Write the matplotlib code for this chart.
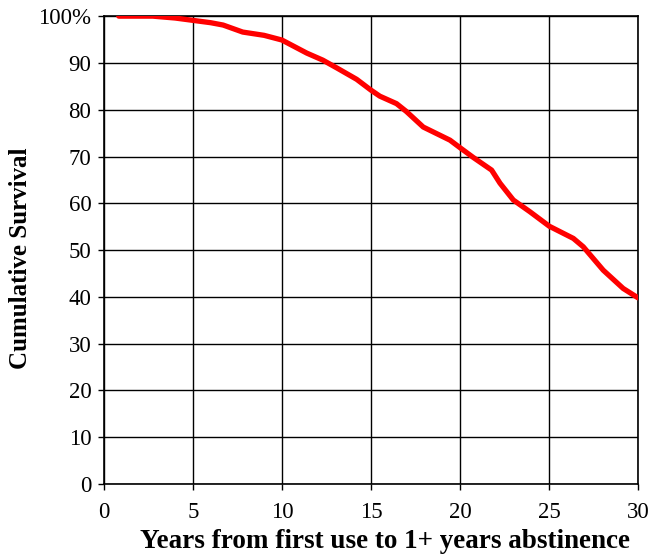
import matplotlib
matplotlib.use("Agg")
import matplotlib.pyplot as plt
from matplotlib.ticker import FuncFormatter

years = [0.84, 2.0, 2.75, 4.0, 5.0, 6.0, 6.7, 7.8, 9.0, 10.0, 11.4, 12.3, 13.1,
         14.2, 15.0, 15.5, 16.44, 17.0, 17.94, 18.69, 19.44, 20.0, 20.75,
         21.78, 22.25, 23.0, 23.93, 25.02, 26.37, 26.93, 28.05, 29.17, 30.0]
survival = [100.0, 100.0, 100.0, 99.6, 99.1, 98.6, 98.1, 96.6, 95.9, 94.9,
            92.1, 90.6, 88.9, 86.5, 84.2, 82.9, 81.3, 79.6, 76.3, 74.9, 73.5,
            71.9, 69.8, 67.1, 64.3, 60.7, 58.2, 55.1, 52.5, 50.7, 45.7, 41.8,
            39.8]

plt.rcParams["font.family"] = ["Liberation Serif", "DejaVu Serif"]

fig = plt.figure(figsize=(6.49, 5.57), dpi=100)
ax = fig.add_axes([0.160, 0.131, 0.823, 0.840])

ax.plot(years, survival, color="#ff0000", lw=3.8, solid_capstyle="round",
        solid_joinstyle="round", zorder=3)

ax.set_xlim(0, 30)
ax.set_ylim(0, 100)
ax.set_xticks(range(0, 31, 5))
ax.set_yticks(range(0, 101, 10))
ax.yaxis.set_major_formatter(FuncFormatter(lambda v, p: "100%" if v == 100 else f"{v:.0f}"))
ax.grid(True, color="black", lw=1.0)
ax.set_axisbelow(True)
for s in ax.spines.values():
    s.set_linewidth(1.2)
ax.tick_params(direction="out", length=4, width=1, labelsize=16.5, pad=5)
ax.tick_params(axis="x", pad=9)

ax.set_xlabel("Years from first use to 1+ years abstinence", fontsize=19.5,
              fontweight="bold")
ax.set_ylabel("Cumulative Survival", fontsize=18, fontweight="bold")
ax.xaxis.set_label_coords(0.526, -0.097)
ax.yaxis.set_label_coords(-0.135, 0.483)

fig.savefig("out.png", dpi=100)
